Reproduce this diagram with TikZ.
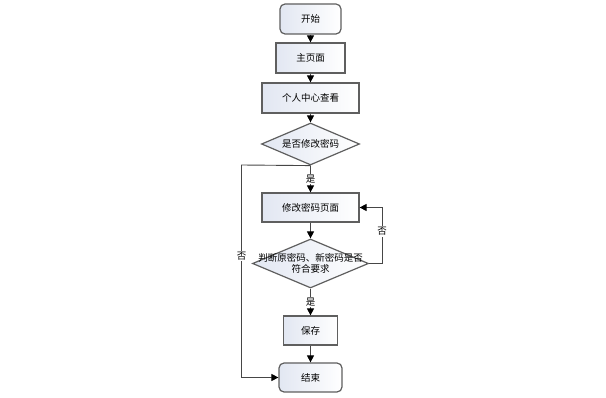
\documentclass[tikz,border=0pt]{standalone}
\usepackage{fontspec}
\setmainfont{Noto Sans CJK SC}
\usetikzlibrary{shapes.geometric,arrows.meta}
\tikzset{
  base/.style={draw={rgb,255:red,95;green,95;blue,95}, line width=1.2pt, left color={rgb,255:red,226;green,231;blue,242}, right color=white, font=\fontsize{9.5}{11}\selectfont, inner sep=0pt, align=center},
  term/.style={base, rounded corners=5pt, rectangle},
  procbox/.style={base, rectangle},
  decide/.style={base, diamond},
  txt/.style={font=\fontsize{9.5}{11}\selectfont, inner sep=0pt, align=center},
  conn/.style={draw={rgb,255:red,70;green,70;blue,70}, line width=0.9pt, -{Triangle[length=7pt,width=7pt,color=black]}},
  lbl/.style={font=\fontsize{9.5}{11}\selectfont, fill=white, inner sep=1pt}
}
\begin{document}
\begin{tikzpicture}[x=1pt,y=-1pt]
\useasboundingbox (0,0) rectangle (606,398);
\node[term, minimum width=61pt, minimum height=30pt] (start) at (310.5,19) {开始};
\node[procbox, minimum width=69pt, minimum height=30pt] (home) at (310.5,58) {主页面};
\node[procbox, minimum width=97pt, minimum height=30pt] (center) at (310.5,98) {个人中心查看};
\node[decide, minimum width=98pt, minimum height=42pt] (d1) at (310.5,144) {};
\node[txt] (d1t) at (d1.center) {是否修改密码};
\node[procbox, minimum width=97pt, minimum height=29pt] (page) at (310.5,207.5) {修改密码页面};
\node[decide, minimum width=116pt, minimum height=49pt] (d2) at (310.5,263.5) {};
\node[txt] (d2t) at (d2.center) {判断原密码、新密码是否\\符合要求};
\node[procbox, minimum width=54pt, minimum height=29pt] (save) at (310.5,330.5) {保存};
\node[term, minimum width=63pt, minimum height=29pt] (end) at (310.5,377.5) {结束};
\coordinate (lt) at (241.5,165);
\coordinate (lb) at (241.5,377.5);
\coordinate (rt) at (382,207.5);
\coordinate (rb) at (382,263.5);
\draw[conn] (start) -- (home);
\draw[conn] (home) -- (center);
\draw[conn] (center) -- (d1);
\draw[conn] (d1.south) -- node[lbl, pos=0.5] (y1) {是} (page);
\draw[conn] (page) -- (d2);
\draw[conn] (d2.south) -- node[lbl, pos=0.5] (y2) {是} (save);
\draw[conn] (save) -- (end);
\draw[conn] (d1.south) -- (lt) -- node[lbl, pos=0.43] (n1) {否} (lb) -- (end.west);
\draw[conn] (d2.east) -- (rb) -- node[lbl, pos=0.57] (n2) {否} (rt) -- (page.east);
\end{tikzpicture}
\end{document}
